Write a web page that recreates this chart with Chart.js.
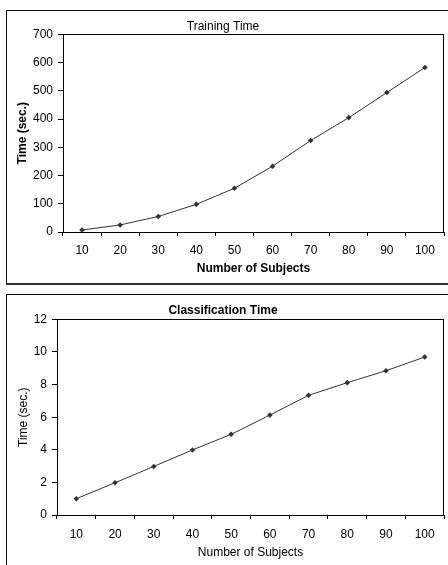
<!DOCTYPE html>
<html>
<head>
<meta charset="utf-8">
<script src="https://cdn.jsdelivr.net/npm/chart.js@4/dist/chart.umd.min.js"></script>
<style>
  html, body { margin: 0; padding: 0; background: #fff; width: 448px; height: 565px; overflow: hidden; }
  .frame { position: absolute; border: 1px solid #111; box-sizing: border-box; }
  canvas { position: absolute; left: 0; }
</style>
</head>
<body>
<div class="frame" style="left:6px; top:10px; width:460px; height:275px; border-bottom:2px solid #333;"></div>
<div class="frame" style="left:6px; top:294px; width:460px; height:300px;"></div>
<canvas id="c1" width="448" height="284" style="top:0px;"></canvas>
<canvas id="c2" width="448" height="271" style="top:294px;"></canvas>
<script>
const subjects = ['10', '20', '30', '40', '50', '60', '70', '80', '90', '100'];
const trainingTime = [7, 25, 55, 98, 155, 233, 324, 405, 494, 583];
const classificationTime = [1.0, 1.98, 2.98, 3.99, 4.95, 6.13, 7.34, 8.12, 8.85, 9.69];
const trainingTicks = { min: 0, max: 700, step: 100 };
const classificationTicks = { min: 0, max: 12, step: 2 };

const FONT = '"Liberation Sans", Arial, Helvetica, sans-serif';
const FS = 12;
Chart.defaults.font.family = FONT;
Chart.defaults.font.size = FS;
Chart.defaults.color = '#000';

const plotBorder = {
  id: 'plotBorder',
  afterDatasetsDraw(chart) {
    const { ctx, chartArea: a } = chart;
    ctx.save();
    ctx.strokeStyle = '#000';
    ctx.lineWidth = 1;
    ctx.strokeRect(Math.round(a.left) + 0.5, Math.round(a.top) + 0.5, Math.round(a.right - a.left) - 1, Math.round(a.bottom - a.top));
    ctx.restore();
  }
};

function makeChart(id, cfg) {
  return new Chart(document.getElementById(id), {
    type: 'line',
    data: {
      labels: subjects,
      datasets: [{
        data: cfg.values,
        borderColor: '#333',
        borderWidth: 1,
        backgroundColor: '#333',
        pointStyle: 'rectRot',
        pointRadius: 2.8,
        pointBorderWidth: 0,
        pointBackgroundColor: '#333',
        tension: 0,
        fill: false
      }]
    },
    options: {
      responsive: false,
      animation: false,
      layout: { padding: { left: 0, right: 2, top: 0, bottom: 0 } },
      plugins: {
        legend: { display: false },
        tooltip: { enabled: false },
        title: {
          display: true,
          text: cfg.title,
          color: '#000',
          font: { family: FONT, size: FS, weight: cfg.titleBold ? 'bold' : 'normal' },
          padding: cfg.titlePad
        }
      },
      scales: {
        x: {
          type: 'category',
          offset: true,
          afterFit(s) { s.height = cfg.xHeight; },
          grid: { display: true, offset: true, drawOnChartArea: false, drawTicks: true, tickLength: 4, color: '#000' },
          border: { display: true, color: '#000', width: 1 },
          ticks: { color: '#000', padding: cfg.xTickPad, maxRotation: 0, font: { family: FONT, size: FS } },
          title: {
            display: true,
            text: 'Number of Subjects',
            color: '#000',
            font: { family: FONT, size: FS, weight: cfg.axisBold ? 'bold' : 'normal' },
            padding: { top: 0, bottom: cfg.xTitlePad }
          }
        },
        y: {
          min: cfg.ticks.min,
          max: cfg.ticks.max,
          afterFit(s) { s.width = cfg.yWidth; },
          grid: { display: true, drawOnChartArea: false, drawTicks: true, tickLength: 5, color: '#000' },
          border: { display: true, color: '#000', width: 1 },
          ticks: { stepSize: cfg.ticks.step, color: '#000', padding: 5, font: { family: FONT, size: FS } },
          title: {
            display: true,
            text: 'Time (sec.)',
            color: '#000',
            font: { family: FONT, size: FS, weight: cfg.axisBold ? 'bold' : 'normal' },
            padding: { top: cfg.yTitlePad, bottom: 0 }
          }
        }
      }
    },
    plugins: [plotBorder]
  });
}

makeChart('c1', {
  values: trainingTime, ticks: trainingTicks, title: 'Training Time', titleBold: false, axisBold: true,
  titlePad: { top: 19, bottom: 1 }, xHeight: 52, yWidth: 63, xTickPad: 7, xTitlePad: 8, yTitlePad: 15
});

makeChart('c2', {
  values: classificationTime, ticks: classificationTicks, title: 'Classification Time', titleBold: true, axisBold: false,
  titlePad: { top: 9, bottom: 2 }, xHeight: 50, yWidth: 57, xTickPad: 8, xTitlePad: 5, yTitlePad: 16
});
</script>
</body>
</html>
